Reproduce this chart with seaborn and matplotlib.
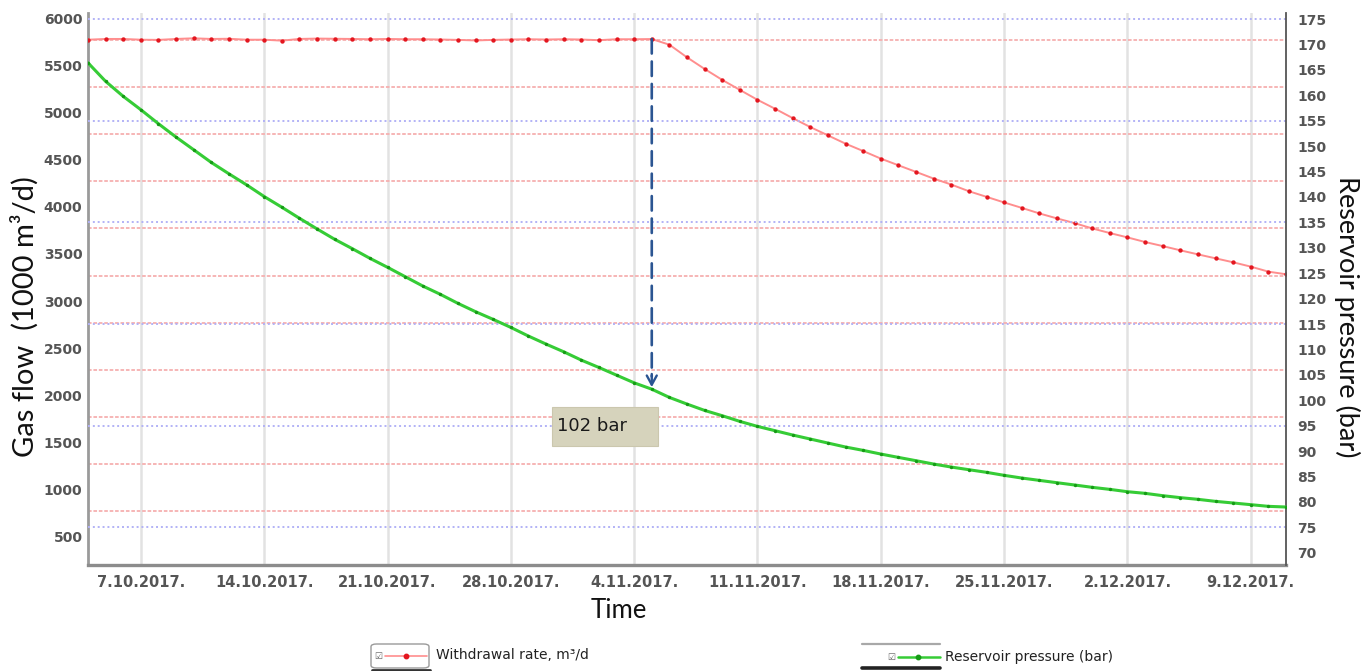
import numpy as np
import pandas as pd
import matplotlib
matplotlib.use("Agg")
import matplotlib.pyplot as plt
import matplotlib.dates as mdates
from matplotlib.lines import Line2D
from matplotlib.patches import Rectangle, FancyBboxPatch
import seaborn as sns

# ---------------- data ----------------
start_date = "2017-10-04"

withdrawal_rate = [
    5770, 5778, 5778, 5770, 5768, 5778, 5785, 5778, 5780, 5770, 5770, 5760,
    5778, 5782, 5780, 5778, 5775, 5778, 5775, 5775, 5772, 5768, 5762, 5768,
    5772, 5775, 5772, 5775, 5772, 5765, 5775, 5775, 5777,
    5717, 5583, 5460, 5344, 5238, 5133, 5038, 4939, 4844, 4756, 4668, 4590,
    4510, 4439, 4369, 4298, 4235, 4164, 4105, 4045, 3988, 3929, 3876, 3826,
    3770, 3721, 3675, 3626, 3583, 3538, 3495, 3453, 3411, 3365, 3312, 3284,
]

reservoir_pressure = [
    166.4, 162.75, 159.8, 157.17, 154.41, 151.78, 149.29, 146.79, 144.56,
    142.39, 140.09, 137.99, 135.82, 133.72, 131.68, 129.84, 127.94, 126.17,
    124.33, 122.49, 120.85, 119.07, 117.43, 115.92, 114.34, 112.64, 111.06,
    109.55, 107.91, 106.46, 104.95, 103.44, 102.19,
    100.57, 99.26, 98.01, 96.97, 95.85, 94.87, 94.02, 93.17, 92.38, 91.59,
    90.81, 90.15, 89.43, 88.77, 88.12, 87.46, 86.87, 86.35, 85.83, 85.24,
    84.71, 84.25, 83.79, 83.34, 82.88, 82.48, 82.02, 81.70, 81.24, 80.85,
    80.52, 80.12, 79.80, 79.47, 79.14, 79.01,
]

left_ticks = [500, 1000, 1500, 2000, 2500, 3000, 3500, 4000, 4500, 5000, 5500, 6000]
right_ticks = [70, 75, 80, 85, 90, 95, 100, 105, 110, 115, 120, 125, 130, 135,
               140, 145, 150, 155, 160, 165, 170, 175]
x_tick_dates = ["2017-10-07", "2017-10-14", "2017-10-21", "2017-10-28",
                "2017-11-04", "2017-11-11", "2017-11-18", "2017-11-25",
                "2017-12-02", "2017-12-09"]
x_tick_labels = ["7.10.2017.", "14.10.2017.", "21.10.2017.", "28.10.2017.",
                 "4.11.2017.", "11.11.2017.", "18.11.2017.", "25.11.2017.",
                 "2.12.2017.", "9.12.2017."]
red_grid_levels = [5770, 5270, 4770, 4270, 3770, 3270, 2770, 2270, 1770, 1270, 770]
blue_grid_levels = [175, 155, 135, 115, 95, 75]
annotation_date = "2017-11-05"
annotation_text = "102 bar"

left_label = "Gas flow  (1000 m\u00b3/d)"
right_label = "Reservoir pressure (bar)"
x_label = "Time"
legend_rate = "Withdrawal rate, m\u00b3/d"
legend_pressure = "Reservoir pressure (bar)"

dates = pd.date_range(start_date, periods=len(withdrawal_rate), freq="D")
df = pd.DataFrame({"date": dates, "rate": withdrawal_rate,
                   "pressure": reservoir_pressure})

# ---------------- style ----------------
sns.set_theme(style="white")
plt.rcParams["font.family"] = ["DejaVu Sans"]

W, H = 1371, 671
fig = plt.figure(figsize=(W / 100, H / 100), dpi=100)
ax = fig.add_axes([88 / W, 106 / H, 1198 / W, 552 / H])
ax2 = ax.twinx()

RED_LINE = "#ff8e8e"
RED_DOT = "#e3161f"
GREEN_LINE = "#36cc36"
GREEN_DOT = "#169a16"

# grid lines
for lvl in red_grid_levels:
    ax.axhline(lvl, color="#f6b0b0", lw=1.3, linestyle=(0, (2.0, 1.0)), zorder=1)
for lvl in blue_grid_levels:
    ax2.axhline(lvl, color="#b2b2f6", lw=1.4, linestyle=(0, (1.0, 1.5)), zorder=1)
for d in pd.to_datetime(x_tick_dates):
    ax.axvline(d, color="#e2e2e2", lw=1.8, zorder=0.5)

# series
sns.lineplot(data=df, x="date", y="rate", ax=ax, color=RED_LINE, lw=1.4,
             legend=False, zorder=3)
sns.scatterplot(data=df, x="date", y="rate", ax=ax, color=RED_DOT, s=10,
                linewidth=0, legend=False, zorder=4)
sns.lineplot(data=df, x="date", y="pressure", ax=ax2, color=GREEN_LINE, lw=2.2,
             legend=False, zorder=3)
sns.scatterplot(data=df, x="date", y="pressure", ax=ax2, color=GREEN_DOT, s=6,
                linewidth=0, legend=False, zorder=4)

# axes limits / ticks
ax.set_xlim(dates[0], dates[-1])
ax.set_ylim(203, 6053)
ax2.set_ylim(67.6, 176.2)
ax.set_yticks(left_ticks)
ax2.set_yticks(right_ticks)
ax.set_xticks(pd.to_datetime(x_tick_dates))
ax.set_xticklabels(x_tick_labels)

ax.tick_params(axis="y", length=0, pad=4, labelsize=10, labelcolor="#555555")
ax.tick_params(axis="x", length=0, pad=7, labelsize=10.5, labelcolor="#555555")
ax2.tick_params(axis="y", length=0, pad=8, labelsize=10, labelcolor="#555555")
for lab in ax.get_xticklabels() + ax.get_yticklabels() + ax2.get_yticklabels():
    lab.set_fontweight("bold")

for a in (ax, ax2):
    a.spines["top"].set_visible(False)
ax.spines["right"].set_visible(False)
ax2.spines["left"].set_visible(False)
ax2.spines["bottom"].set_visible(False)
ax.spines["left"].set_color("#9a9a9a")
ax.spines["left"].set_linewidth(2.0)
ax.spines["bottom"].set_color("#8c8c8c")
ax.spines["bottom"].set_linewidth(2.4)
ax2.spines["right"].set_color("#555555")
ax2.spines["right"].set_linewidth(1.3)

fam = ["Lato", "DejaVu Sans"]
ax.set_ylabel(left_label, family=fam, fontsize=21, color="#111111")
ax.yaxis.label.set(ha="center", va="center", rotation_mode="default")
ax.yaxis.set_label_coords(-0.0526, 0.45)
ax2.set_ylabel(right_label, rotation=270, family=fam, fontsize=19.5,
               color="#111111")
ax2.yaxis.label.set(ha="center", va="center", rotation_mode="default")
ax2.yaxis.set_label_coords(1.051, 0.45)
ax.set_xlabel(x_label, family=fam, fontsize=18.5, color="#111111")
ax.xaxis.label.set(ha="center", va="center")
ax.xaxis.set_label_coords(0.443, -0.082)

# ---------------- annotation arrow ----------------
adate = pd.Timestamp(annotation_date)
idx = list(dates).index(adate)
xnum = mdates.date2num(adate)
ARROW = "#2b5592"
ax2.annotate("", xy=(xnum, reservoir_pressure[idx] + 2.5),
             xytext=(xnum, withdrawal_rate[idx]), textcoords=ax.transData,
             arrowprops=dict(arrowstyle="-", color=ARROW, lw=1.9,
                             linestyle=(0, (5.5, 3.0)), shrinkA=0, shrinkB=0),
             zorder=6)
ax2.annotate("", xy=(xnum, reservoir_pressure[idx] + 0.4),
             xytext=(xnum, reservoir_pressure[idx] + 3.0),
             arrowprops=dict(arrowstyle="->,head_length=0.55,head_width=0.3",
                             color=ARROW, lw=1.7, shrinkA=0, shrinkB=0),
             zorder=6)

# label box "102 bar"
def fx(px):
    return px / W

def fy(py):
    return 1 - py / H

fig.add_artist(Rectangle((fx(552), fy(446)), 106 / W, 39 / H,
                         transform=fig.transFigure, facecolor="#d6d3bc",
                         edgecolor="#cbc7ae", lw=0.8, zorder=5))
fig.text(fx(557), fy(426), annotation_text, fontsize=13, color="#1a1a1a",
         ha="left", va="center", zorder=6)

# ---------------- legend (widget style) ----------------
# entry 1
fig.add_artist(FancyBboxPatch((fx(371), fy(668)), 58 / W, 24 / H,
                              boxstyle="round,pad=0,rounding_size=0.004",
                              transform=fig.transFigure, facecolor="white",
                              edgecolor="#9a9a9a", lw=1.0, zorder=2))
fig.add_artist(Line2D([fx(372), fx(430)], [fy(669.5), fy(669.5)],
                      transform=fig.transFigure, color="#333333", lw=2.0))
fig.text(fx(378), fy(656), "\u2611", fontsize=6.5, color="#666666",
         ha="center", va="center")
fig.add_artist(Line2D([fx(385), fx(427)], [fy(656), fy(656)],
                      transform=fig.transFigure, color=RED_LINE, lw=1.2))
fig.add_artist(Line2D([fx(406)], [fy(656)], transform=fig.transFigure,
                      marker="o", markersize=3.2, color=RED_DOT, lw=0))
fig.text(fx(436), fy(655), legend_rate, fontsize=10, color="#222222",
         ha="left", va="center")

# entry 2
fig.add_artist(Line2D([fx(862), fx(940)], [fy(644), fy(644)],
                      transform=fig.transFigure, color="#a8a8a8", lw=1.6))
fig.add_artist(Line2D([fx(862), fx(940)], [fy(668), fy(668)],
                      transform=fig.transFigure, color="#222222", lw=2.6))
fig.text(fx(891), fy(657), "\u2611", fontsize=6.5, color="#666666",
         ha="center", va="center")
fig.add_artist(Line2D([fx(898), fx(940)], [fy(657), fy(657)],
                      transform=fig.transFigure, color=GREEN_LINE, lw=1.8))
fig.add_artist(Line2D([fx(918)], [fy(657)], transform=fig.transFigure,
                      marker="o", markersize=3.2, color=GREEN_DOT, lw=0))
fig.text(fx(945), fy(657), legend_pressure, fontsize=10, color="#222222",
         ha="left", va="center")

fig.savefig("out.png", dpi=100, facecolor="white")
